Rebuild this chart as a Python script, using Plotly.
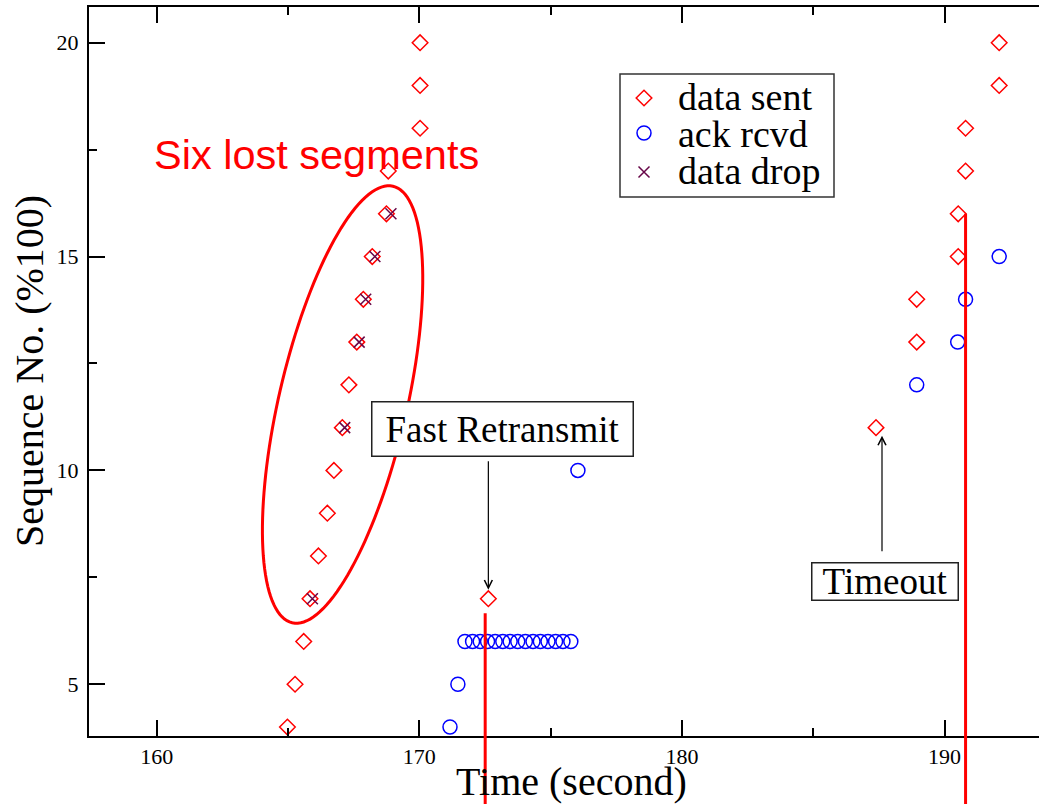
import math
import plotly.graph_objects as go

# ---- figure geometry (pixels) ----
FIG_W, FIG_H = 1039, 804
M_L, M_R, M_T, M_B = 89, 0, 7, 68
PLOT_W = FIG_W - M_L - M_R
PLOT_H = FIG_H - M_T - M_B

X_RANGE = [157.425, 193.596]
Y_RANGE = [3.79, 20.835]

SERIF = "Liberation Serif"
SANS = "Liberation Sans"
RED = "#ff0000"
BLUE = "#0000ff"
MAROON = "#670748"

# ---- data ----
sent_time = [164.98, 165.27, 165.60, 165.84, 166.16, 166.50, 166.75, 167.07,
             167.32, 167.62, 167.87, 168.21, 168.75, 168.82, 170.03, 170.03,
             170.03, 172.63, 187.39, 188.94, 188.94, 190.52, 190.52, 190.80,
             190.80, 192.08, 192.08]
sent_seq = [4, 5, 6, 7, 8, 9, 10, 11, 12, 13, 14, 15, 16, 17, 18, 19, 20,
            7, 11, 13, 14, 15, 16, 17, 18, 19, 20]

ack_time = [171.17, 171.47, 171.74, 172.03, 172.32, 172.60, 172.89, 173.18,
            173.46, 173.75, 174.04, 174.33, 174.61, 174.90, 175.19, 175.47,
            175.77, 176.04, 188.94, 190.50, 190.80, 192.08]
ack_seq = [4, 5, 6, 6, 6, 6, 6, 6, 6, 6, 6, 6, 6, 6, 6, 6, 6, 10, 12, 13, 14, 15]

drop_time = [165.93, 167.16, 167.71, 167.96, 168.31, 168.92]
drop_seq = [7, 11, 13, 14, 15, 16]

# retransmission events: time and the sequence number where the marker line starts
event_time = [172.51, 190.80]
event_seq = [6.66, 16.0]

legend_names = ["data sent", "ack rcvd", "data drop"]

# index of the retransmitted segments inside the sent series
FAST_RTX_IDX = 17
TIMEOUT_IDX = 18


def px_x(px):
    return (px - M_L) / PLOT_W


def px_y(py):
    return 1 - (py - M_T) / PLOT_H


def seq_to_paper(v):
    return (v - Y_RANGE[0]) / (Y_RANGE[1] - Y_RANGE[0])


diamond = dict(symbol="diamond-open", size=12, color=RED, line=dict(color=RED, width=1.5))
circle = dict(symbol="circle-open", size=14, color=BLUE, line=dict(color=BLUE, width=1.5))
cross = dict(symbol="x-thin-open", size=11, color=MAROON, line=dict(color=MAROON, width=1.5))

fig = go.Figure()
fig.add_trace(go.Scatter(x=sent_time, y=sent_seq, mode="markers", marker=diamond,
                         name=legend_names[0], showlegend=False))
fig.add_trace(go.Scatter(x=ack_time, y=ack_seq, mode="markers", marker=circle,
                         name=legend_names[1], showlegend=False))
fig.add_trace(go.Scatter(x=drop_time, y=drop_seq, mode="markers", marker=cross,
                         name=legend_names[2], showlegend=False))

# ---- legend box (drawn by hand to keep the compact line spacing) ----
LEG_BOX = (620, 74, 834, 197)
LEG_KEY_X = 644
LEG_TEXT_X = 676
LEG_ROWS_TEXT = [97.5, 134, 170.5]
LEG_ROWS_KEY = [98, 133, 172]
for sty, ky in zip([diamond, circle, cross], LEG_ROWS_KEY):
    fig.add_trace(go.Scatter(x=[px_x(LEG_KEY_X)], y=[px_y(ky)], mode="markers",
                             marker=sty, xaxis="x2", yaxis="y2", showlegend=False,
                             cliponaxis=False, hoverinfo="skip"))

shapes = []
annotations = []

shapes.append(dict(type="rect", xref="paper", yref="paper",
                   x0=px_x(LEG_BOX[0]), x1=px_x(LEG_BOX[2]),
                   y0=px_y(LEG_BOX[3]), y1=px_y(LEG_BOX[1]),
                   line=dict(color="#333333", width=1.5), fillcolor="rgba(0,0,0,0)"))
for name, ty in zip(legend_names, LEG_ROWS_TEXT):
    annotations.append(dict(xref="paper", yref="paper", x=px_x(LEG_TEXT_X), y=px_y(ty),
                            xanchor="left", yanchor="middle", text=name, showarrow=False,
                            font=dict(family=SERIF, size=38, color="black")))

# ---- retransmission marker lines (run down past the axis) ----
bottom_paper = -M_B / PLOT_H
for t, s in zip(event_time, event_seq):
    shapes.append(dict(type="line", xref="x", yref="paper", x0=t, x1=t,
                       y0=bottom_paper, y1=seq_to_paper(s),
                       line=dict(color=RED, width=3)))

# ---- ellipse around the lost segments ----
px_per_x = PLOT_W / (X_RANGE[1] - X_RANGE[0])
px_per_y = PLOT_H / (Y_RANGE[1] - Y_RANGE[0])
ell_cx, ell_cy = 167.08, 11.54
ell_a, ell_b, ell_tilt = 224.0, 64.0, math.radians(77)
pts = []
for k in range(145):
    phi = 2 * math.pi * k / 144
    dx = ell_a * math.cos(phi) * math.cos(ell_tilt) - ell_b * math.sin(phi) * math.sin(ell_tilt)
    dy = ell_a * math.cos(phi) * math.sin(ell_tilt) + ell_b * math.sin(phi) * math.cos(ell_tilt)
    pts.append((ell_cx + dx / px_per_x, ell_cy + dy / px_per_y))
ell_path = "M " + " L ".join(f"{x:.4f},{y:.4f}" for x, y in pts) + " Z"
shapes.append(dict(type="path", xref="x", yref="y", path=ell_path,
                   line=dict(color=RED, width=3)))

annotations.append(dict(xref="paper", yref="paper", x=px_x(316), y=px_y(154.8),
                        xanchor="center", yanchor="middle", text="Six lost segments",
                        showarrow=False, font=dict(family=SANS, size=41.5, color=RED)))

# ---- callouts ----
annotations.append(dict(xref="paper", yref="paper", x=px_x(502.5), y=px_y(429),
                        xanchor="center", yanchor="middle", text="Fast Retransmit",
                        showarrow=False, width=260, height=53, borderpad=0,
                        bordercolor="#222222", borderwidth=1.5, bgcolor="white",
                        font=dict(family=SERIF, size=37, color="black")))
annotations.append(dict(xref="x", yref="y", x=sent_time[FAST_RTX_IDX], y=sent_seq[FAST_RTX_IDX],
                        text="", showarrow=True, axref="pixel", ayref="pixel", ax=0, ay=-139,
                        arrowhead=5, arrowsize=1.3, arrowwidth=1.2, arrowcolor="black",
                        standoff=9))

annotations.append(dict(xref="paper", yref="paper", x=px_x(885), y=px_y(581.5),
                        xanchor="center", yanchor="middle", text="Timeout",
                        showarrow=False, width=145, height=36, borderpad=0,
                        bordercolor="#222222", borderwidth=1.5, bgcolor="white",
                        font=dict(family=SERIF, size=37, color="black")))
annotations.append(dict(xref="x", yref="y", x=sent_time[TIMEOUT_IDX], y=sent_seq[TIMEOUT_IDX],
                        text="", showarrow=True, axref="pixel", ayref="pixel", ax=0, ay=125,
                        xshift=6, arrowhead=5, arrowsize=1.3, arrowwidth=1.2,
                        arrowcolor="black", standoff=8))

# ---- axis titles ----
annotations.append(dict(xref="paper", yref="paper", x=px_x(571), y=px_y(781.5),
                        xanchor="center", yanchor="middle", text="Time (second)",
                        showarrow=False, font=dict(family=SERIF, size=40, color="black")))
annotations.append(dict(xref="paper", yref="paper", x=px_x(29.5), y=px_y(371.5),
                        xanchor="center", yanchor="middle", text="Sequence No. (%100)",
                        textangle=-90, showarrow=False,
                        font=dict(family=SERIF, size=40, color="black")))

axis_common = dict(showline=True, linecolor="black", linewidth=2, ticks="inside",
                   tickcolor="black", tickwidth=2, ticklen=16, showgrid=False,
                   zeroline=False, tickfont=dict(family=SERIF, size=22, color="black"))

fig.update_layout(
    width=FIG_W, height=FIG_H,
    margin=dict(l=M_L, r=M_R, t=M_T, b=M_B, pad=0),
    paper_bgcolor="white", plot_bgcolor="white",
    showlegend=False,
    xaxis=dict(range=X_RANGE, dtick=10, tick0=0, mirror="ticks",
               minor=dict(dtick=5, ticks="inside", ticklen=8, tickwidth=2, tickcolor="black"),
               **axis_common),
    yaxis=dict(range=Y_RANGE, dtick=5, tick0=0, mirror=False, ticklabelstandoff=4,
               minor=dict(dtick=2.5, ticks="inside", ticklen=8, tickwidth=2, tickcolor="black"),
               **axis_common),
    xaxis2=dict(overlaying="x", anchor="y2", range=[0, 1], visible=False),
    yaxis2=dict(overlaying="y", anchor="x2", range=[0, 1], visible=False),
    shapes=shapes,
    annotations=annotations,
)

fig.write_html("out.html")
